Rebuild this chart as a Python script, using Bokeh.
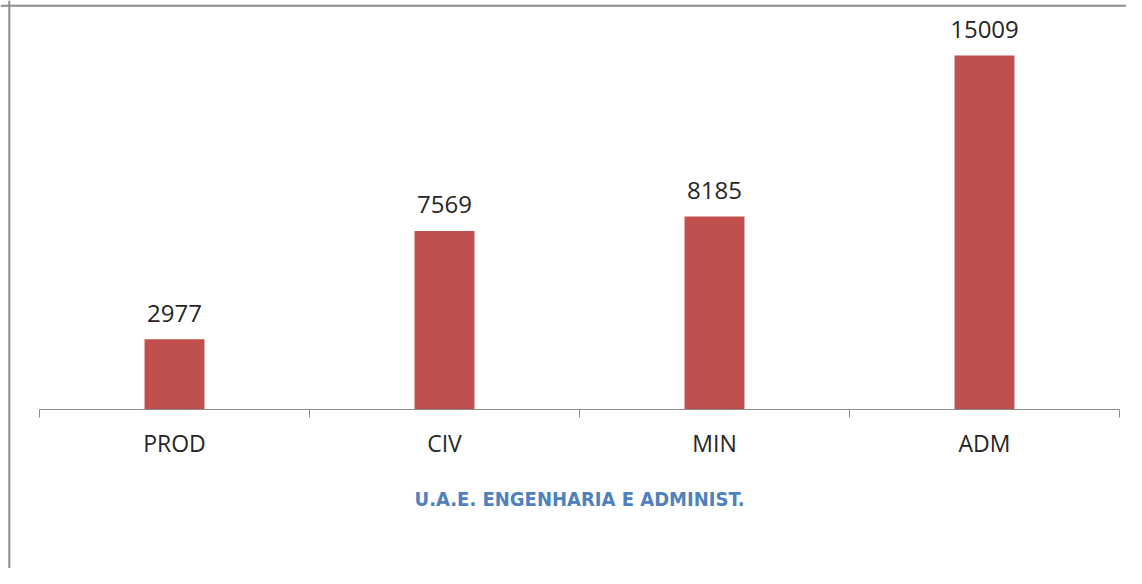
from bokeh.plotting import figure
from bokeh.models import ColumnDataSource, LabelSet, Label, Range1d, Span
from bokeh.core.properties import value
from bokeh.embed import file_html
from bokeh.resources import INLINE

categories = ["PROD", "CIV", "MIN", "ADM"]
values = [2977, 7569, 8185, 15009]
title_text = "U.A.E. ENGENHARIA E ADMINIST."

W, H = 1126, 568
AX_LEFT_PX, CAT_PX, AXIS_Y_PX = 39, 270, 409
UNITS_PER_PX = 15009 / 354.0

x_start = -AX_LEFT_PX / CAT_PX
x_end = (W - AX_LEFT_PX) / CAT_PX
y_end = AXIS_Y_PX * UNITS_PER_PX
y_start = -(H - AXIS_Y_PX) * UNITS_PER_PX

n = len(categories)
positions = [i + 0.5 for i in range(n)]
src = ColumnDataSource(dict(x=positions, top=values, lbl=[str(v) for v in values],
                            cat=categories, zero=[0] * n))

p = figure(width=W, height=H, output_backend="svg", toolbar_location=None,
           x_range=Range1d(x_start, x_end), y_range=Range1d(y_start, y_end),
           x_axis_location=None, y_axis_location=None,
           min_border_left=0, min_border_right=0, min_border_top=0, min_border_bottom=0)
p.outline_line_color = None
p.xgrid.visible = False
p.ygrid.visible = False

# chart border (left and top)
p.add_layout(Span(location=x_start + 8.8 / CAT_PX, dimension="height",
                  line_color="#8c8c8c", line_width=2))
p.add_layout(Span(location=y_end - 5.3 * UNITS_PER_PX, dimension="width",
                  line_color="#8c8c8c", line_width=2))

p.vbar(x="x", top="top", width=0.222, source=src, fill_color="#C0504D", line_color=None)

# category axis line and boundary ticks
bounds = list(range(n + 1))
p.segment(x0=[0], x1=[n], y0=[0], y1=[0], line_color="#8c8c8c", line_width=1)
p.segment(x0=bounds, x1=bounds, y0=[0] * (n + 1), y1=[-8 * UNITS_PER_PX] * (n + 1),
          line_color="#8c8c8c", line_width=1)

cat_labels = LabelSet(x="x", y="zero", text="cat", source=src, text_align="center",
                      text_baseline="middle", y_offset=-33, text_font=value("Open Sans"),
                      text_font_size="23px", text_color="#262626")
p.add_layout(cat_labels)

labels = LabelSet(x="x", y="top", text="lbl", source=src, text_align="center",
                  text_baseline="middle", y_offset=26, text_font=value("Open Sans"),
                  text_font_size="24px", text_color="#262626")
p.add_layout(labels)

t = Label(x=n / 2, y=-89 * UNITS_PER_PX, text=title_text, text_align="center",
          text_baseline="middle", text_font="'DejaVu Sans Condensed', Roboto",
          text_font_size="20px", text_font_style="bold", text_color="#4F81BD")
p.add_layout(t)

open("out.html", "w").write(file_html(p, INLINE))
